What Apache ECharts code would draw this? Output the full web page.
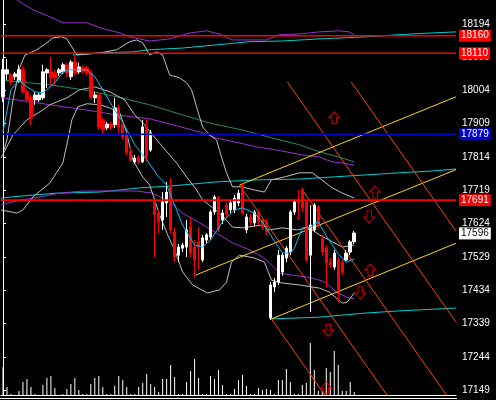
<!DOCTYPE html>
<html><head><meta charset="utf-8">
<script src="https://cdn.jsdelivr.net/npm/echarts@6/dist/echarts.min.js"></script>
<style>html,body{margin:0;padding:0;background:#000;}#c{width:496px;height:400px;}</style>
</head><body><div id="c"></div>
<script>
// candles: [open, close, low, high]
const candles = [
[17986,18063,17971,18094],[18051,18063,18034,18094],[18048,18028,18020,18054],[18043,18051,18034,18057],
[18031,18063,18026,18077],[18063,18000,17994,18074],[18000,17977,17971,18006],[17983,17926,17906,17991],
[17977,17991,17963,18000],[17977,17991,17971,17997],[17983,18057,17977,18077],[18054,18063,18011,18068],
[18057,18040,18020,18100],[18054,18040,18020,18063],[18054,18063,18045,18068],[18057,18077,18051,18083],
[18077,18054,18043,18083],[18043,18085,18034,18091],[18085,18054,18048,18105],[18057,18071,18051,18083],
[18068,18057,18051,18074],[18068,18054,18048,18074],[18054,17986,17980,18063],[17983,17991,17968,18000],
[17991,17900,17891,17997],[17920,17891,17877,17926],[17897,17908,17891,17914],[17908,17900,17891,17914],
[17906,17954,17897,17983],[17954,17900,17883,17963],[17908,17871,17863,17914],[17877,17826,17820,17883],
[17829,17806,17800,17840],[17800,17811,17794,17820],[17814,17800,17794,17820],[17800,17900,17797,17920],
[17900,17814,17800,17920],[17834,17883,17829,17891],[17686,17649,17529,17692],[17654,17629,17597,17663],
[17634,17686,17606,17714],[17683,17714,17643,17743],[17729,17606,17597,17754],[17600,17529,17514,17612],
[17534,17557,17514,17566],[17554,17563,17543,17569],[17557,17606,17529,17634],[17614,17540,17529,17640],
[17557,17520,17472,17577],[17572,17557,17492,17614],[17520,17583,17514,17592],[17577,17592,17569,17597],
[17586,17657,17577,17663],[17657,17700,17649,17706],[17697,17606,17600,17703],[17634,17654,17623,17663],
[17677,17649,17640,17683],[17663,17683,17654,17692],[17663,17697,17654,17706],[17683,17711,17674,17720],
[17734,17654,17649,17740],[17606,17643,17597,17652],[17643,17629,17620,17652],[17626,17657,17617,17663],
[17657,17629,17620,17663],[17634,17614,17606,17643],[17629,17600,17592,17634],[17355,17449,17349,17457],
[17443,17457,17429,17469],[17457,17534,17449,17549],[17486,17534,17475,17540],[17526,17554,17514,17560],
[17543,17657,17534,17663],[17657,17686,17649,17692],[17692,17683,17634,17720],[17720,17669,17657,17726],
[17686,17520,17514,17692],[17534,17620,17372,17677],[17606,17677,17600,17683],[17672,17620,17612,17677],
[17583,17543,17534,17592],[17554,17512,17443,17563],[17514,17506,17497,17526],[17500,17540,17492,17549],
[17520,17435,17400,17529],[17514,17486,17477,17520],[17520,17540,17514,17549],[17543,17572,17534,17577],
[17572,17597,17566,17603]
];
const volumes = [28,8,1,0,4,13,16,8,1,0,10,17,19,7,0,1,6,11,17,5,1,1,11,17,19,8,1,1,9,19,15,8,1,1,8,12,21,11,8,3,
16,16,30,18,1,1,13,24,36,17,1,1,19,16,25,10,1,1,6,15,20,9,1,1,7,5,6,5,1,15,15,26,13,1,1,10,12,52,25,4,4,27,23,44,30,4,4,13,3];
const slotCount = 114;
const priceTicks = [17149,17244,17339,17434,17529,17624,17719,17814,17909,18004,18099,18194];

// indicator lines: [barIndex, price]
const maFast = [[0,17886],[2,18006],[4,18034],[6,18014],[8,18000],[10,17997],[13,18026],[15,18057],[17,18063],[21,18063],
[23,18043],[25,18006],[28,17948],[30,17914],[33,17849],[36,17806],[39,17757],[41,17734],[43,17677],[45,17620],[48,17563],
[50,17557],[52,17577],[55,17629],[58,17663],[60,17669],[63,17654],[65,17629],[67,17592],[70,17540],[72,17540],[73,17554],
[75,17612],[77,17614],[79,17629],[81,17589],[84,17537],[86,17514],[88,17523]];
const purpleTop = [[3.5,18262],[7.5,18234],[11.75,18214],[15,18197],[21,18197],[24.25,18183],[29.25,18168],[31.75,18157],
[36.75,18145],[41.75,18151],[46.75,18168],[51,18174],[54.25,18165],[57.5,18148],[66,18148],[69.25,18163],[74.25,18165],
[79.25,18171],[84.25,18174],[86.75,18171],[88,18163]];
const cyanTop = [[17.5,18105],[24.25,18111],[32.5,18114],[36.75,18120],[45,18125],[53.5,18134],[61.75,18143],[70,18145],
[79.25,18151],[91,18157],[99.25,18163],[107.5,18168],[113.5,18171]];
const cyanMid = [[-0.5,17697],[5,17703],[13.5,17711],[24.25,17714],[34.25,17726],[41.75,17731],[53.5,17743],[64.25,17749],
[74.25,17751],[82.5,17757],[91,17763],[99.25,17769],[107.5,17774],[113.5,17780]];
const cyanLow = [[67.25,17352],[79.25,17357],[91,17369],[99.25,17375],[113.5,17383]];
const greenMa = [[-0.5,18034],[4.25,18028],[11.75,18020],[20,18006],[28.5,17986],[36.75,17963],[45,17934],[51.75,17911],
[60,17891],[67.5,17868],[74.25,17849],[79.25,17829],[85,17811],[88,17800]];
const purpleMid = [[-0.5,17983],[3.5,17977],[11.75,17963],[21,17948],[28.5,17934],[36.75,17923],[43.5,17903],[50,17883],
[53.5,17868],[59.25,17854],[63.5,17843],[68.5,17834],[75,17820],[79.25,17814],[82.5,17800],[85,17797],[88,17791]];
const purpleLow = [[-0.5,17677],[2.5,17686],[6,17694],[9.25,17700],[14.25,17711],[20,17717],[33.5,17717],[37.5,17711],
[41.75,17686],[45,17654],[49.25,17626],[53.5,17597],[57.5,17569],[61.75,17549],[65,17529],[66.75,17512],[69.25,17483],
[72.5,17477],[76,17472],[79.25,17463],[81,17455],[83.5,17429],[86,17415],[88,17409]];
const bandUpper = [[0.25,17834],[1,17863],[2.5,17977],[4.25,18071],[5.5,18105],[8.5,18120],[11,18140],[12.5,18154],
[14.75,18157],[16,18151],[17.25,18128],[18.5,18105],[24.25,18111],[28.5,18120],[31.75,18143],[33.5,18148],[35,18140],
[36.75,18105],[38.5,18114],[40,18105],[41.75,18048],[44.25,18040],[46,18026],[47.25,18006],[48.5,17957],[50,17900],
[51.75,17877],[53.5,17863],[54.75,17814],[56,17769],[57.5,17729],[59.75,17729],[63,17720],[65.5,17714],[67.25,17749],
[70.5,17757],[74.25,17769],[77.5,17769],[79.25,17754],[82.5,17726],[85,17711],[88,17697]];
const bandMiddle = [[-0.5,17811],[2.5,17877],[6,17920],[9.25,17943],[11.75,17963],[16,17983],[19.25,18006],[23,18014],
[26.75,18000],[30.5,17977],[33,17934],[35.5,17906],[37.5,17877],[40,17843],[43.5,17797],[46,17757],[48.5,17720],[50,17692],
[52.5,17669],[54.25,17654],[56,17634],[57.5,17614],[60,17612],[65,17620],[66.75,17606],[70,17612],[73.5,17606],
[76.75,17612],[79.25,17592],[81.75,17577],[85,17557],[88,17563]];
const bandLower = [[-0.5,17663],[3.5,17654],[5,17663],[7.5,17700],[11.75,17740],[15,17797],[16.25,17863],[17.25,17920],
[18.75,17957],[21,17966],[24.25,17963],[26.75,17954],[29.25,17940],[31,17883],[32.5,17806],[35,17757],[36.75,17734],
[39.25,17649],[41.25,17592],[43,17549],[45,17486],[47.5,17449],[51.25,17426],[54.25,17435],[56,17457],[57.25,17514],
[59.25,17534],[63,17526],[65.5,17514],[67.25,17463],[69.75,17455],[74.25,17449],[79.25,17440],[81.75,17429],[85,17397],
[86.25,17400],[88,17426]];
const yellowLines = [
  [[59.25,17734],[113.5,17986]],
  [[48.25,17477],[113.5,17778]],
  [[67.25,17352],[113.5,17568]]
];
const orangeLines = [
  [[59.25,17734],[97,17122]],
  [[71.25,18028],[113.5,17343]],
  [[75,17720],[113.5,17096]],
  [[87.25,18028],[113.5,17603]],
  [[67.25,17352],[81,17129]]
];
const arrowsUp = [[83,17926],[93.25,17714],[92,17492],[81,17155]];
const arrowsDown = [[91.75,17643],[89.5,17426],[81.5,17320]];
const levels = [
  {v:18160, line:'#ff0000', bg:'#ff0000', fg:'#ffffff'},
  {v:18110, line:'#ff0000', bg:'#ff0000', fg:'#ffffff'},
  {v:17879, line:'#0000cd', bg:'#0000cd', fg:'#ffffff'},
  {v:17691, line:'#ff0000', bg:'#ff0000', fg:'#ffffff'},
  {v:17596, line:null, bg:'#ffffff', fg:'#000000'}
];

const cats = [];
for (let i = 0; i < slotCount; i++) cats.push(String(i));
const FONT = 'Liberation Sans';

function lineSeries(data, color, z) {
  return {type:'line', xAxisIndex:1, yAxisIndex:0, data:data, showSymbol:false, symbol:'none',
    lineStyle:{color:color, width:1}, silent:true, animation:false, z:z||2, clip:true};
}
const series = [];
series.push(lineSeries(purpleTop,'#9932CC'));
series.push(lineSeries(cyanTop,'#00CED1'));
series.push(lineSeries(cyanMid,'#00CED1'));
series.push(lineSeries(cyanLow,'#00CED1'));
series.push(lineSeries(greenMa,'#2E8B57'));
series.push(lineSeries(purpleMid,'#9932CC'));
series.push(lineSeries(purpleLow,'#9932CC'));
series.push(lineSeries(bandUpper,'#C0C0C0'));
series.push(lineSeries(bandMiddle,'#C0C0C0'));
series.push(lineSeries(bandLower,'#C0C0C0'));
yellowLines.forEach(d => series.push(lineSeries(d,'#FFD700',3)));
orangeLines.forEach(d => series.push(lineSeries(d,'#FF4500',3)));
series.push({
  type:'candlestick', xAxisIndex:0, yAxisIndex:0, data:candles, barWidth:3, animation:false, z:4,
  itemStyle:{color:'#ffffff', color0:'#ff0000', borderColor:'#ffffff', borderColor0:'#ff0000', borderWidth:1}
});
series.push(lineSeries(maFast,'#00BFFF',5));
levels.forEach(l => {
  series.push({type:'line', xAxisIndex:1, yAxisIndex:0, data:[[-0.5,l.v],[113.5,l.v]], showSymbol:false, symbol:'none',
    lineStyle:{color:l.line || 'rgba(0,0,0,0)', width:1.6}, silent:true, animation:false, z:6, clip:false,
    endLabel:{show:true, distance:3, formatter:String(l.v), color:l.fg, backgroundColor:l.bg,
      fontFamily:FONT, fontSize:10, padding:[2,2,1,2], lineHeight:9}});
});
const upPath = 'path://M5,0 L10,6 L7,6 L7,12 L3,12 L3,6 L0,6 Z';
const downPath = 'path://M3,0 L7,0 L7,6 L10,6 L5,12 L0,6 L3,6 Z';
series.push({type:'scatter', xAxisIndex:1, yAxisIndex:0, data:arrowsUp, symbol:upPath, symbolSize:[11,12],
  itemStyle:{color:'rgba(0,0,0,0)', borderColor:'#ff0000', borderWidth:1}, silent:true, animation:false, z:7});
series.push({type:'scatter', xAxisIndex:1, yAxisIndex:0, data:arrowsDown, symbol:downPath, symbolSize:[11,12],
  itemStyle:{color:'rgba(0,0,0,0)', borderColor:'#ff0000', borderWidth:1}, silent:true, animation:false, z:7});
series.push({type:'bar', xAxisIndex:2, yAxisIndex:1, data:volumes, barWidth:1, itemStyle:{color:'#ffffff'},
  silent:true, animation:false});

const chart = echarts.init(document.getElementById('c'), null, {renderer:'canvas'});
chart.setOption({
  backgroundColor:'#000000',
  animation:false,
  grid:[{left:1, top:0, width:455, height:395}, {left:1, top:295, width:455, height:100}],
  xAxis:[
    {type:'category', gridIndex:0, data:cats, boundaryGap:true,
      axisLine:{show:true, lineStyle:{color:'#ffffff', width:1}}, axisTick:{show:false}, axisLabel:{show:false}, splitLine:{show:false}},
    {type:'value', gridIndex:0, min:-0.5, max:113.5, show:false},
    {type:'category', gridIndex:1, data:cats, show:false}
  ],
  yAxis:[
    {type:'value', gridIndex:0, position:'right', min:17135, max:18262, scale:true,
      axisLine:{show:true, lineStyle:{color:'#ffffff', width:1}},
      axisTick:{show:true, inside:false, length:3, customValues:priceTicks, lineStyle:{color:'#ffffff'}},
      axisLabel:{show:true, customValues:priceTicks, color:'#ffffff', fontFamily:FONT, fontSize:10, margin:6,
        formatter:function(v){ return String(Math.round(v)); }},
      splitLine:{show:false}},
    {type:'value', gridIndex:1, min:0, max:100, show:false}
  ],
  graphic:[{type:'line', shape:{x1:0, y1:398.5, x2:457, y2:398.5}, style:{stroke:'#ffffff', lineWidth:1}, silent:true}],
  series:series
});
</script>
</body></html>
